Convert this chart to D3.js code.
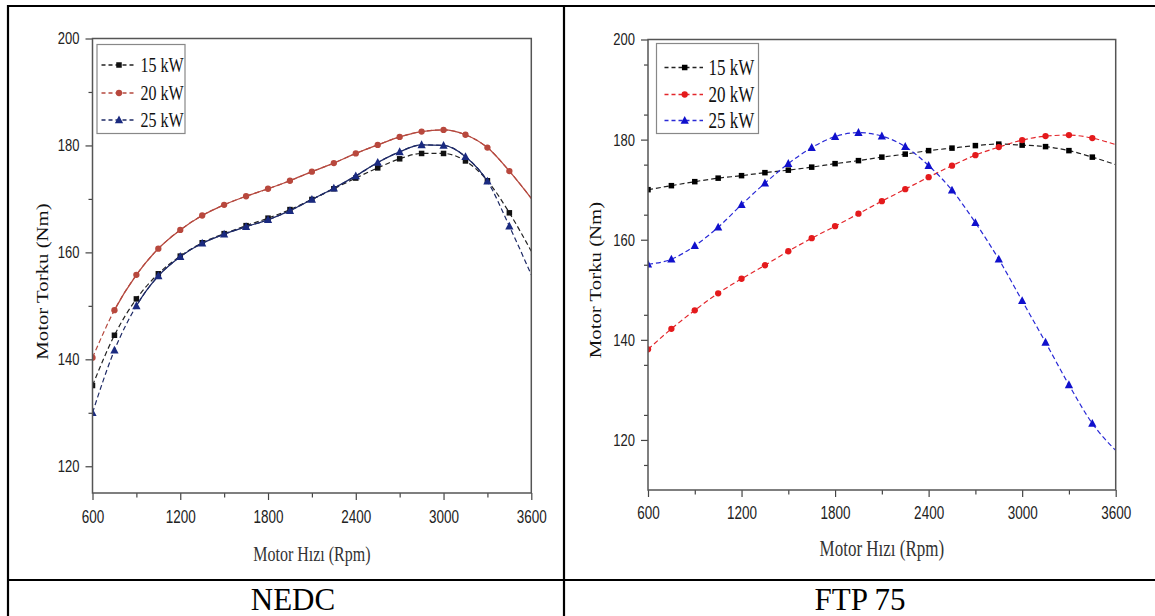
<!DOCTYPE html>
<html>
<head>
<meta charset="utf-8">
<script src="https://cdn.jsdelivr.net/npm/d3@7"></script>
<style>
  body { margin: 0; padding: 0; background: #fff; }
  svg { display: block; }
</style>
</head>
<body>
<div id="main"></div>
<script>
// rpm points (every 150 rpm)
const rpm = [600, 750, 900, 1050, 1200, 1350, 1500, 1650, 1800, 1950, 2100,
             2250, 2400, 2550, 2700, 2850, 3000, 3150, 3300, 3450, 3600];

// NEDC torque (Nm)
const nedc15 = [135.1, 144.5, 151.3, 156.0, 159.3, 161.8, 163.5, 165.0, 166.4, 168.0, 169.9,
                171.9, 173.9, 175.8, 177.5, 178.5, 178.5, 177.1, 173.4, 167.4, 160.2];
const nedc20 = [140.3, 149.2, 155.8, 160.7, 164.2, 166.9, 168.9, 170.5, 171.9, 173.4, 175.1,
                176.7, 178.5, 180.1, 181.6, 182.6, 182.9, 182.0, 179.6, 175.2, 170.1];
const nedc25 = [130.0, 141.7, 150.0, 155.6, 159.2, 161.7, 163.4, 164.8, 166.1, 167.8, 169.9,
                172.0, 174.3, 176.8, 178.8, 180.1, 180.0, 177.9, 173.3, 164.9, 155.8];

// FTP 75 torque (Nm)
const ftp15 = [170.0, 170.8, 171.6, 172.3, 172.8, 173.4, 173.9, 174.5, 175.2, 175.8, 176.5,
               177.1, 177.8, 178.3, 178.8, 179.1, 178.9, 178.6, 177.8, 176.5, 175.0];
const ftp20 = [138.1, 142.2, 145.9, 149.3, 152.2, 154.9, 157.7, 160.3, 162.7, 165.2, 167.7,
               170.1, 172.5, 174.8, 176.9, 178.5, 179.9, 180.7, 180.9, 180.3, 179.0];
const ftp25 = [155.1, 156.1, 158.8, 162.5, 167.0, 171.3, 175.2, 178.4, 180.6, 181.4, 180.7,
               178.6, 174.8, 169.9, 163.4, 156.1, 147.8, 139.5, 131.0, 123.3, 117.9];

const seriesNames = ['15 kW', '20 kW', '25 kW'];
const xTicks = [600, 1200, 1800, 2400, 3000, 3600];
const yTicks = [120, 140, 160, 180, 200];
const captions = ['NEDC', 'FTP 75'];
const xTitle = 'Motor Hızı (Rpm)';
const yTitle = 'Motor Torku (Nm)';

const W = 1155, H = 616;
const SY = 1.3; // the source picture is stretched vertically

const svg = d3.select('#main').append('svg')
  .attr('width', W).attr('height', H);

// table borders
const border = svg.append('g').attr('stroke', '#000').attr('stroke-width', 2.2);
border.append('line').attr('x1', 7).attr('x2', W).attr('y1', 6).attr('y2', 6);
border.append('line').attr('x1', 8).attr('x2', 8).attr('y1', 5).attr('y2', H);
border.append('line').attr('x1', 564).attr('x2', 564).attr('y1', 5).attr('y2', H);
border.append('line').attr('x1', 7).attr('x2', W).attr('y1', 580).attr('y2', 580);

captions.forEach((c, i) => {
  svg.append('text')
    .attr('x', i === 0 ? 293 : 860)
    .attr('y', 610)
    .attr('text-anchor', 'middle')
    .attr('font-family', '"Liberation Serif", "Times New Roman", serif')
    .attr('font-size', 31)
    .attr('fill', '#000')
    .text(c);
});

function drawPanel(cfg, id) {
  const x = d3.scaleLinear().domain([600, 3600]).range([cfg.left, cfg.right]);
  const y = d3.scaleLinear().domain(cfg.yDomain).range([cfg.bottom, cfg.top]);
  const g = svg.append('g');

  const clipId = 'clip' + id;
  g.append('clipPath').attr('id', clipId).append('rect')
    .attr('x', cfg.left).attr('y', cfg.top)
    .attr('width', cfg.right - cfg.left).attr('height', cfg.bottom - cfg.top);

  const plot = g.append('g').attr('clip-path', `url(#${clipId})`);

  const line = d3.line()
    .x((d, i) => x(rpm[i]))
    .y(d => y(d))
    .curve(d3.curveMonotoneX);

  cfg.series.forEach((s, k) => {
    plot.append('path')
      .datum(s.values)
      .attr('d', line)
      .attr('fill', 'none')
      .attr('stroke', s.line)
      .attr('stroke-width', 1.2)
      .attr('stroke-dasharray', '5,3');

    if (s.solid) {
      const sid = clipId + 's' + k;
      g.append('clipPath').attr('id', sid).append('rect')
        .attr('x', x(s.solid[0])).attr('y', cfg.top)
        .attr('width', x(s.solid[1]) - x(s.solid[0])).attr('height', cfg.bottom - cfg.top);
      plot.append('path')
        .datum(s.values)
        .attr('d', line)
        .attr('clip-path', `url(#${sid})`)
        .attr('fill', 'none')
        .attr('stroke', s.line)
        .attr('stroke-width', 1.3);
    }

    const pts = s.values.map((v, i) => [rpm[i], v]).filter(p => p[0] < 3600);
    const mk = plot.append('g').attr('fill', s.marker);
    drawMarkers(mk, pts.map(p => [x(p[0]), y(p[1])]), s.shape, cfg.msize);
  });

  // minor ticks
  const yMinor = d3.range(cfg.yDomain[0] + (cfg.yDomain[0] % 20 === 0 ? 10 : 5), 200, 10)
    .filter(v => v % 20 !== 0);
  g.append('g')
    .attr('transform', `translate(${cfg.left},0)`)
    .call(d3.axisLeft(y).tickValues(yMinor).tickSize(4).tickSizeOuter(0).tickFormat(''))
    .call(a => a.select('.domain').remove())
    .call(a => a.selectAll('line').attr('stroke', '#444').attr('stroke-width', 1.2));
  g.append('g')
    .attr('transform', `translate(0,${cfg.bottom})`)
    .call(d3.axisBottom(x).tickValues(d3.range(900, 3600, 600)).tickSize(4.5).tickSizeOuter(0).tickFormat(''))
    .call(a => a.select('.domain').remove())
    .call(a => a.selectAll('line').attr('stroke', '#444').attr('stroke-width', 1.2));

  // major ticks + labels
  g.append('g')
    .attr('transform', `translate(${cfg.left},0)`)
    .call(d3.axisLeft(y).tickValues(yTicks).tickSize(7).tickSizeOuter(0).tickFormat(d3.format('d')))
    .call(a => a.select('.domain').remove())
    .call(a => a.selectAll('line').attr('stroke', '#444').attr('stroke-width', 1.2))
    .call(a => a.selectAll('text')
      .attr('x', -13).attr('dy', '0.32em')
      .attr('transform', `scale(1,${SY})`)
      .attr('font-family', '"Liberation Sans", Arial, sans-serif')
      .attr('font-size', 13).attr('fill', '#222'));
  g.append('g')
    .attr('transform', `translate(0,${cfg.bottom})`)
    .call(d3.axisBottom(x).tickValues(xTicks).tickSize(7).tickSizeOuter(0).tickFormat(d3.format('d')))
    .call(a => a.select('.domain').remove())
    .call(a => a.selectAll('line').attr('stroke', '#444').attr('stroke-width', 1.2))
    .call(a => a.selectAll('text')
      .attr('y', 0).attr('dy', '0.71em')
      .attr('transform', `translate(0,${cfg.xLabelOff}) scale(1,${SY})`)
      .attr('font-family', '"Liberation Sans", Arial, sans-serif')
      .attr('font-size', 13.5).attr('fill', '#222'));

  // frame
  g.append('rect')
    .attr('x', cfg.left).attr('y', cfg.top)
    .attr('width', cfg.right - cfg.left).attr('height', cfg.bottom - cfg.top)
    .attr('fill', 'none').attr('stroke', '#555').attr('stroke-width', 1.5);

  // axis titles
  g.append('text')
    .attr('transform', `translate(${(cfg.left + cfg.right) / 2 + cfg.xTitleDx},${cfg.xTitleY}) scale(1,${SY})`)
    .attr('dy', '0.35em')
    .attr('text-anchor', 'middle')
    .attr('font-family', '"Liberation Serif", "Times New Roman", serif')
    .attr('font-size', cfg.xTitleSize).attr('fill', '#333')
    .text(xTitle);
  g.append('text')
    .attr('transform', `translate(${cfg.yTitleX},${cfg.yTitleY}) scale(1,${SY}) rotate(-90)`)
    .attr('dy', '0.35em')
    .attr('text-anchor', 'middle')
    .attr('font-family', '"Liberation Serif", "Times New Roman", serif')
    .attr('font-size', 16).attr('fill', '#111')
    .text(yTitle);

  // legend
  const L = cfg.legend;
  g.append('rect')
    .attr('x', L.x0).attr('y', L.y0)
    .attr('width', L.x1 - L.x0).attr('height', L.y1 - L.y0)
    .attr('fill', '#fff').attr('stroke', '#888').attr('stroke-width', 1.2);
  cfg.series.forEach((s, k) => {
    const cy = L.rows[k];
    g.append('line')
      .attr('x1', L.lx0).attr('x2', L.lx1).attr('y1', cy).attr('y2', cy)
      .attr('stroke', s.line).attr('stroke-width', 1.3).attr('stroke-dasharray', '4,3');
    drawMarkers(g.append('g').attr('fill', s.marker), [[L.mx, cy]], s.shape, cfg.msize);
    g.append('text')
      .attr('transform', `translate(${L.tx},${cy}) scale(1,${SY})`)
      .attr('dy', '0.33em')
      .attr('font-family', '"Liberation Serif", "Times New Roman", serif')
      .attr('font-size', L.size).attr('fill', '#111')
      .text(seriesNames[k]);
  });
}

function drawMarkers(sel, pts, shape, size) {
  if (shape === 'square') {
    sel.selectAll('rect').data(pts).enter().append('rect')
      .attr('x', d => d[0] - size / 2).attr('y', d => d[1] - size / 2)
      .attr('width', size).attr('height', size);
  } else if (shape === 'circle') {
    sel.selectAll('circle').data(pts).enter().append('circle')
      .attr('cx', d => d[0]).attr('cy', d => d[1]).attr('r', size / 2 + 0.4);
  } else {
    const s = size * 0.75;
    sel.selectAll('path').data(pts).enter().append('path')
      .attr('d', d => `M${d[0]},${d[1] - s * 1.1}L${d[0] + s},${d[1] + s * 0.8}L${d[0] - s},${d[1] + s * 0.8}Z`);
  }
}

drawPanel({
  left: 92.5, right: 531.3, top: 38.5, bottom: 493, yDomain: [115, 200],
  xLabelOff: 17.5, xTitleY: 554, xTitleDx: 0, xTitleSize: 16,
  yTitleX: 42.5, yTitleY: 281.5, msize: 5.5,
  legend: { x0: 97, x1: 185, y0: 44.5, y1: 133.5, rows: [65, 93, 120],
            lx0: 101.5, lx1: 135, mx: 119, tx: 140.5, size: 16 },
  series: [
    { values: nedc15, line: '#222', marker: '#111', shape: 'square' },
    { values: nedc20, line: '#b5493f', marker: '#b8483d', shape: 'circle', solid: [750, 3600] },
    { values: nedc25, line: '#1e2a66', marker: '#1a2a80', shape: 'triangle', solid: [900, 3300] }
  ]
}, 0);

drawPanel({
  left: 648, right: 1115.7, top: 39.5, bottom: 490, yDomain: [110, 200],
  xLabelOff: 17, xTitleY: 548, xTitleDx: 0, xTitleSize: 17,
  yTitleX: 595, yTitleY: 280, msize: 5.5,
  legend: { x0: 656.5, x1: 758.5, y0: 43.5, y1: 133.5, rows: [67.5, 94.5, 120.5],
            lx0: 664.5, lx1: 703, mx: 684.7, tx: 708.5, size: 17 },
  series: [
    { values: ftp15, line: '#222', marker: '#000', shape: 'square' },
    { values: ftp20, line: '#e3262b', marker: '#e41a1c', shape: 'circle' },
    { values: ftp25, line: '#2a2ad6', marker: '#1010cc', shape: 'triangle' }
  ]
}, 1);
</script>
</body>
</html>
